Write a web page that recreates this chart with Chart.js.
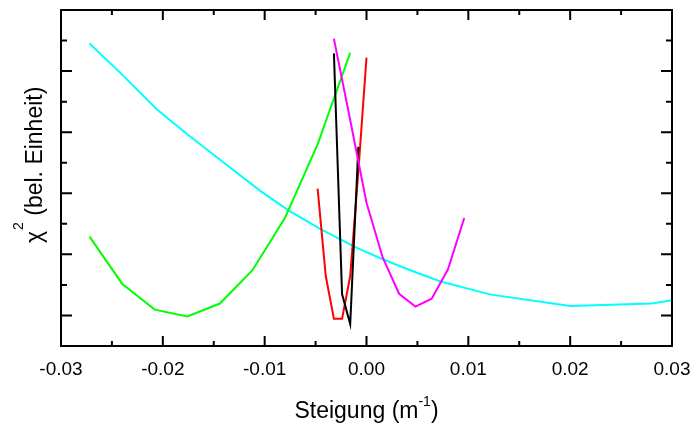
<!DOCTYPE html>
<html>
<head>
<meta charset="utf-8">
<script src="https://cdn.jsdelivr.net/npm/chart.js@4.4.1/dist/chart.umd.min.js"></script>
<style>
  html,body{margin:0;padding:0;background:#fff;}
  #wrap{position:relative;width:694px;height:426px;}
</style>
</head>
<body>
<div id="wrap"><canvas id="chi"></canvas></div>
<script>
// chi^2 scans vs. slope, one curve per fit
const cyanX    = [-0.0272,-0.0242,-0.0206,-0.0176,-0.0140,-0.0104,-0.0077,-0.0046,-0.0010,0.0016,0.0043,0.0072,0.0121,0.0200,0.0280,0.0300];
const cyanY    = [9.90,8.95,7.75,6.93,6.00,5.07,4.45,3.84,3.22,2.84,2.48,2.12,1.69,1.31,1.39,1.50];
const greenX   = [-0.0272,-0.0240,-0.0208,-0.0176,-0.0144,-0.0112,-0.0080,-0.0048,-0.0016];
const greenY   = [3.58,2.04,1.19,0.97,1.39,2.48,4.20,6.60,9.60];
const redX     = [-0.0048,-0.0040,-0.0032,-0.0024,-0.0016,-0.0008,0.0000];
const redY     = [5.15,2.29,0.89,0.89,2.29,5.72,9.44];
const blackX   = [-0.0032,-0.0024,-0.0016,-0.0008];
const blackY   = [9.58,1.70,0.72,6.52];
const magentaX = [-0.0032,-0.0016,0.0000,0.0016,0.0032,0.0048,0.0064,0.0080,0.0096];
const magentaY = [10.06,7.40,4.69,2.89,1.71,1.29,1.55,2.51,4.19];

const xTicks = [-0.03,-0.02,-0.01,0.00,0.01,0.02,0.03];
const yMajor = [1,3,5,7,9];
const yMinor = [2,4,6,8,10];

const FONT = "'Liberation Sans', Arial, Helvetica, sans-serif";
Chart.defaults.font.family = FONT;

const pts = (xs,ys)=>xs.map((x,i)=>({x:x,y:ys[i]}));
const line = (xs,ys,col)=>({data:pts(xs,ys),borderColor:col,backgroundColor:col,borderWidth:2,
  pointRadius:0,pointHoverRadius:0,showLine:true,fill:false,tension:0});

// frame, inward ticks and axis titles (with superscripts)
const frame = {
  id:'frame',
  afterDraw(chart){
    const {ctx, chartArea:a, scales:{x, y}} = chart;
    ctx.save();
    ctx.strokeStyle='#000'; ctx.lineWidth=2; ctx.lineCap='butt';
    ctx.beginPath();
    // x ticks, top and bottom
    for (let i=0;i<xTicks.length;i++){
      const px = x.getPixelForValue(xTicks[i]);
      ctx.moveTo(px,a.bottom); ctx.lineTo(px,a.bottom-10);
      ctx.moveTo(px,a.top); ctx.lineTo(px,a.top+10);
      if (i<xTicks.length-1){
        const pm = x.getPixelForValue((xTicks[i]+xTicks[i+1])/2);
        ctx.moveTo(pm,a.bottom); ctx.lineTo(pm,a.bottom-5);
        ctx.moveTo(pm,a.top); ctx.lineTo(pm,a.top+5);
      }
    }
    // y ticks, left and right
    yMajor.forEach(v=>{
      const py = y.getPixelForValue(v);
      ctx.moveTo(a.left,py); ctx.lineTo(a.left+11,py);
      ctx.moveTo(a.right,py); ctx.lineTo(a.right-11,py);
    });
    yMinor.forEach(v=>{
      const py = y.getPixelForValue(v);
      ctx.moveTo(a.left,py); ctx.lineTo(a.left+6,py);
      ctx.moveTo(a.right,py); ctx.lineTo(a.right-6,py);
    });
    ctx.stroke();
    ctx.strokeRect(a.left, a.top, a.right-a.left, a.bottom-a.top);

    ctx.fillStyle='#000'; ctx.textBaseline='alphabetic'; ctx.textAlign='left';
    // x title: Steigung (m^-1)
    const t1='Steigung (m', sup1='-1', t2=')';
    ctx.font='23px '+FONT; const w1=ctx.measureText(t1).width, w3=ctx.measureText(t2).width;
    ctx.font='14px '+FONT; const w2=ctx.measureText(sup1).width;
    let sx = (a.left+a.right)/2 - (w1+w2+w3)/2, by = 418;
    ctx.font='23px '+FONT; ctx.fillText(t1,sx,by);
    ctx.font='14px '+FONT; ctx.fillText(sup1,sx+w1,by-12);
    ctx.font='23px '+FONT; ctx.fillText(t2,sx+w1+w2,by);

    // y title: chi^2 (bel. Einheit), rotated
    ctx.translate(41.5, 243);
    ctx.rotate(-Math.PI/2);
    ctx.font='23px '+FONT; ctx.fillText('\u03C7',0,0);
    const wc = ctx.measureText('\u03C7').width;
    ctx.font='14px '+FONT; ctx.fillText('2',wc+1,-19);
    const ws = ctx.measureText('2').width;
    ctx.font='23px '+FONT; ctx.fillText(' (bel. Einheit)',wc+ws+1,0);
    ctx.restore();
  }
};

new Chart(document.getElementById('chi'),{
  type:'scatter',
  data:{datasets:[
    line(magentaX,magentaY,'#FF00FF'),
    line(blackX,blackY,'#000000'),
    line(redX,redY,'#FF0000'),
    line(greenX,greenY,'#00FF00'),
    line(cyanX,cyanY,'#00FFFF')
  ]},
  options:{
    responsive:true, maintainAspectRatio:false, animation:false,
    layout:{padding:{top:10,right:22,left:0,bottom:0}},
    plugins:{legend:{display:false},tooltip:{enabled:false}},
    scales:{
      x:{type:'linear',min:-0.03,max:0.03,
         grid:{display:false},border:{display:false},
         afterBuildTicks:(s)=>{ s.ticks = xTicks.map(v=>({value:v})); },
         afterFit:(s)=>{ s.height = 80; s.paddingLeft = 0; s.paddingRight = 0; },
         ticks:{color:'#000',font:{size:19},padding:4,maxRotation:0,autoSkip:false,
                callback:(v)=>Math.abs(v)<1e-9?'0.00':Number(v).toFixed(2)}},
      y:{type:'linear',min:0,max:11,
         grid:{display:false},border:{display:false},
         ticks:{display:false},
         afterFit:(s)=>{ s.width = 61; }}
    }
  },
  plugins:[frame]
});
</script>
</body>
</html>
